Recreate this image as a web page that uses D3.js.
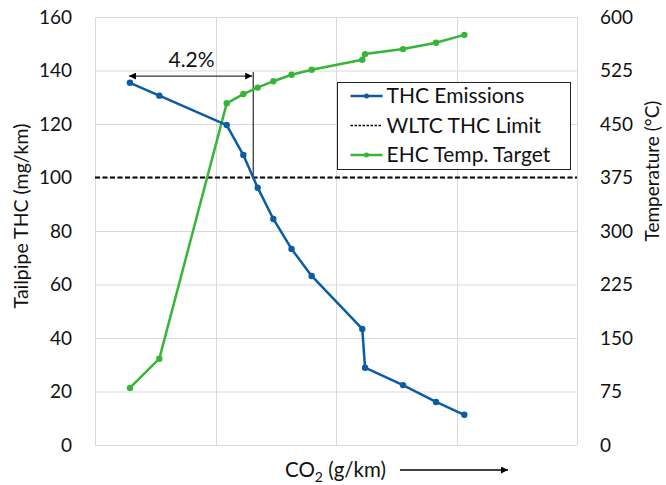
<!DOCTYPE html>
<html>
<head>
<meta charset="utf-8">
<title>THC vs CO2</title>
<style>
  body { margin: 0; padding: 0; background: #fff; }
  svg text { font-family: Lato, 'Open Sans', sans-serif; fill: #111; }
  .grid line { stroke: #d9d9d9; stroke-width: 1; }
</style>
</head>
<body>
<div id="vis"></div>
<script src="https://cdnjs.cloudflare.com/ajax/libs/d3/7.8.5/d3.min.js"></script>
<script>
// relative CO2 position (no tick labels on the original axis)
var co2 = [0.290, 0.534, 1.093, 1.231, 1.350, 1.480, 1.631, 1.798, 2.218, 2.241, 2.556, 2.830, 3.065];
var thc = [135.4, 130.6, 119.6, 108.4, 96.2, 84.5, 73.3, 63.2, 43.4, 28.9, 22.4, 16.1, 11.3];
var temp = [80, 121, 479, 492, 501, 510, 519, 526, 540, 548, 555, 564, 575];
var wltcLimit = 100;
var leftTicks = [0, 20, 40, 60, 80, 100, 120, 140, 160];
var rightTicks = [0, 75, 150, 225, 300, 375, 450, 525, 600];
var xGrid = [0, 1, 2, 3, 4];
var seriesNames = ['THC Emissions', 'WLTC THC Limit', 'EHC Temp. Target'];
var gapLabel = '4.2%';

var W = 666, H = 485,
    margin = {top: 17, right: 89, bottom: 40, left: 95},
    blue = '#0b5ca3', green = '#37b537';

var svg = d3.select('#vis').append('svg')
  .attr('width', W).attr('height', H);

var x = d3.scaleLinear().domain([0, 4]).range([margin.left, W - margin.right]);
var yL = d3.scaleLinear().domain([0, 160]).range([H - margin.bottom, margin.top]);
var yR = d3.scaleLinear().domain([0, 600]).range([H - margin.bottom, margin.top]);

// grid
var grid = svg.append('g').attr('class', 'grid');
grid.selectAll('line.h').data(leftTicks).enter().append('line')
  .attr('x1', x(0)).attr('x2', x(4))
  .attr('y1', function(d) { return yL(d) + 0.5; })
  .attr('y2', function(d) { return yL(d) + 0.5; });
grid.selectAll('line.v').data(xGrid).enter().append('line')
  .attr('y1', yL(0)).attr('y2', yL(160))
  .attr('x1', function(d) { return Math.round(x(d)) + 0.5; })
  .attr('x2', function(d) { return Math.round(x(d)) + 0.5; });

// axes (labels only)
var axL = svg.append('g').attr('transform', 'translate(' + (margin.left - 23) + ',0)')
  .call(d3.axisLeft(yL).tickValues(leftTicks).tickSize(0).tickPadding(0));
var axR = svg.append('g').attr('transform', 'translate(' + (W - margin.right + 23) + ',0)')
  .call(d3.axisRight(yR).tickValues(rightTicks).tickSize(0).tickPadding(0));
[axL, axR].forEach(function(a) {
  a.select('.domain').remove();
  a.selectAll('text').style('font-size', '19px').attr('fill', '#111');
});

// titles
svg.append('text')
  .attr('transform', 'translate(28,216) rotate(-90)')
  .attr('text-anchor', 'middle')
  .style('font-size', '19.5px')
  .text('Tailpipe THC (mg/km)');
svg.append('text')
  .attr('transform', 'translate(659,171) rotate(-90)')
  .attr('text-anchor', 'middle')
  .style('font-size', '19px')
  .text('Temperature (°C)');

var xt = svg.append('text').attr('x', 285).attr('y', 477).style('font-size', '20.5px');
xt.append('tspan').text('CO');
xt.append('tspan').attr('dy', 5).style('font-size', '14px').text('2');
xt.append('tspan').attr('dy', -5).text(' (g/km)');

var defs = svg.append('defs');
defs.append('marker').attr('id', 'ah')
  .attr('viewBox', '0 0 10 10').attr('refX', 10).attr('refY', 5)
  .attr('markerWidth', 9).attr('markerHeight', 7)
  .attr('markerUnits', 'userSpaceOnUse')
  .attr('orient', 'auto-start-reverse')
  .append('path').attr('d', 'M0,0L10,5L0,10Z').attr('fill', '#000');

svg.append('line')
  .attr('x1', 400).attr('x2', 508).attr('y1', 470).attr('y2', 470)
  .attr('stroke', '#000').attr('stroke-width', 1.3)
  .attr('marker-end', 'url(#ah)');

// WLTC limit
svg.append('line')
  .attr('x1', x(0)).attr('x2', x(4))
  .attr('y1', yL(wltcLimit)).attr('y2', yL(wltcLimit))
  .attr('stroke', '#000').attr('stroke-width', 2.2)
  .attr('stroke-dasharray', '5,2.5');

// crossing point with limit
var crossX = 0;
for (var i = 1; i < thc.length; i++) {
  if (thc[i - 1] >= wltcLimit && thc[i] < wltcLimit) {
    var f = (thc[i - 1] - wltcLimit) / (thc[i - 1] - thc[i]);
    crossX = co2[i - 1] + f * (co2[i] - co2[i - 1]);
  }
}
var arrowY = yL(137.9);
svg.append('line')
  .attr('x1', x(crossX)).attr('x2', x(crossX))
  .attr('y1', arrowY - 4).attr('y2', yL(wltcLimit))
  .attr('stroke', '#000').attr('stroke-width', 1);
svg.append('line')
  .attr('x1', x(co2[0]) - 1).attr('x2', x(crossX) - 1)
  .attr('y1', arrowY).attr('y2', arrowY)
  .attr('stroke', '#000').attr('stroke-width', 1)
  .attr('marker-start', 'url(#ah)').attr('marker-end', 'url(#ah)');
svg.append('text')
  .attr('x', (x(co2[0]) + x(crossX)) / 2).attr('y', arrowY - 9)
  .attr('text-anchor', 'middle').style('font-size', '21px')
  .text(gapLabel);

// series
function drawSeries(vals, yScale, color) {
  var pts = co2.map(function(c, i) { return [x(c), yScale(vals[i])]; });
  svg.append('path')
    .attr('d', d3.line()(pts))
    .attr('fill', 'none').attr('stroke', color).attr('stroke-width', 2.5)
    .attr('stroke-linejoin', 'round');
  svg.append('g').selectAll('circle').data(pts).enter().append('circle')
    .attr('cx', function(d) { return d[0]; })
    .attr('cy', function(d) { return d[1]; })
    .attr('r', 3.2).attr('fill', color);
}
drawSeries(temp, yR, green);
drawSeries(thc, yL, blue);

// legend
var lg = svg.append('g').attr('transform', 'translate(337.5,82.5)');
lg.append('rect').attr('width', 233).attr('height', 87)
  .attr('fill', '#fff').attr('stroke', '#222').attr('stroke-width', 1);
var styles = [
  {color: blue, dash: null, marker: true},
  {color: '#000', dash: '2.5,1.5', marker: false},
  {color: green, dash: null, marker: true}
];
seriesNames.forEach(function(name, i) {
  var cy = 13.5 + i * 29.5;
  var s = styles[i];
  lg.append('line')
    .attr('x1', 13).attr('x2', 45).attr('y1', cy).attr('y2', cy)
    .attr('stroke', s.color).attr('stroke-width', s.marker ? 2.5 : 1.3)
    .attr('stroke-dasharray', s.dash);
  if (s.marker) {
    lg.append('circle').attr('cx', 29).attr('cy', cy).attr('r', 2.5).attr('fill', s.color);
  }
  lg.append('text').attr('x', 49).attr('y', cy + 7)
    .style('font-size', '21px').text(name);
});
</script>
</body>
</html>
